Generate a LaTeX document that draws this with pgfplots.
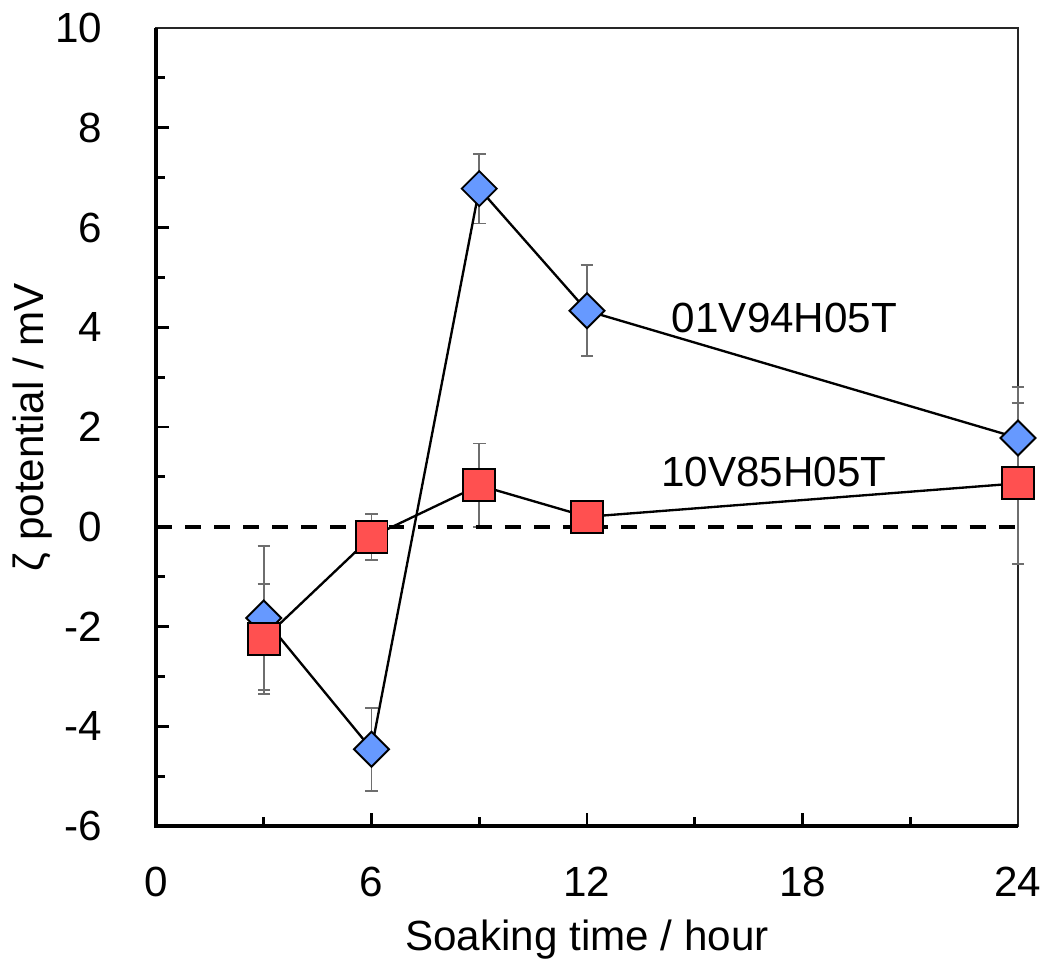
\documentclass[border=0pt]{standalone}
\usepackage{fontspec}
\setmainfont{Liberation Sans}
\usepackage{pgfplots}
\usepackage{pgfplotstable}
\pgfplotsset{compat=1.18}

\definecolor{mkblue}{RGB}{102,153,255}
\definecolor{mkred}{RGB}{255,80,80}
\definecolor{errgray}{RGB}{110,110,110}

% 01V94H05T
\pgfplotstableread{
x  y     e
3  -1.83 1.45
6  -4.46 0.83
9  6.78  0.70
12 4.33  0.91
24 1.78  1.03
}\tabA
% 10V85H05T
\pgfplotstableread{
x  y     e
3  -2.25 1.10
6  -0.20 0.46
9  0.83  0.84
12 0.20  0.10
24 0.87  1.61
}\tabB

\newcommand{\lblfont}{\fontsize{13.5}{16}\selectfont}

\begin{document}
\begin{tikzpicture}
\begin{axis}[
  scale only axis,
  width=275.84pt, height=255.36pt,
  xmin=0, xmax=24, ymin=-6, ymax=10,
  xtick={0,6,12,18,24}, ytick={-6,-4,...,10},
  minor x tick num=1, minor y tick num=1,
  tick align=inside, xtick pos=bottom, ytick pos=left,
  major tick length=4.2pt, minor tick length=2.9pt,
  tick style={black, line width=0.9pt},
  axis line style={line width=0.6pt, draw=black!85},
  /pgf/number format/assume math mode=true,
  tick label style={font=\lblfont, inner sep=0pt},
  xticklabel style={yshift=-12.8pt},
  yticklabel style={xshift=-17pt},
  xlabel={Soaking time / hour},
  ylabel={ζ potential / mV},
  every axis x label/.style={at={(axis description cs:0.5,-0.1429)}, anchor=center, inner sep=0pt, font=\lblfont},
  every axis y label/.style={at={(axis description cs:-0.1427,0.5)}, rotate=90, anchor=center, inner sep=0pt, font=\lblfont},
  clip=false,
  after end axis/.code={
    \draw[line width=1.1pt, black] (rel axis cs:0,1) -- (rel axis cs:0,0) -- (rel axis cs:1,0);
    \path (rel axis cs:-0.181,-0.1767) rectangle (rel axis cs:1.0325,1.0351);
  },
]
% error bars first, behind everything
\addplot[draw=none, mark=none, forget plot,
  error bars/.cd, y dir=both, y explicit,
  error bar style={draw=errgray, line width=0.6pt},
  error mark options={rotate=90, mark size=2pt, draw=errgray, line width=0.6pt}]
  table[x=x, y=y, y error=e] {\tabA};
\addplot[draw=none, mark=none, forget plot,
  error bars/.cd, y dir=both, y explicit,
  error bar style={draw=errgray, line width=0.6pt},
  error mark options={rotate=90, mark size=2pt, draw=errgray, line width=0.6pt}]
  table[x=x, y=y, y error=e] {\tabB};

\addplot[black, line width=0.75pt, mark=square*, mark size=3.96pt,
  mark options={rotate=45, fill=mkblue, draw=black, line width=0.6pt}]
  table[x=x, y=y] {\tabA};
\addplot[black, line width=0.75pt, mark=square*, mark size=5.1pt,
  mark options={fill=mkred, draw=black, line width=0.6pt}]
  table[x=x, y=y] {\tabB};

% zero line
\addplot[black, line width=1.3pt, dash pattern=on 5.1pt off 4.2pt, forget plot]
  coordinates {(0,0) (24,0)};

\node[font=\lblfont] at (axis cs:17.5,4.19) {01V94H05T};
\node[font=\lblfont] at (axis cs:17.2,1.10) {10V85H05T};
\end{axis}
\end{tikzpicture}
\end{document}
